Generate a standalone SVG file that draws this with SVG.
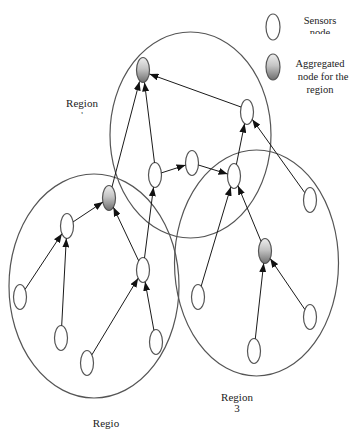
<svg xmlns="http://www.w3.org/2000/svg" width="351" height="430" viewBox="0 0 351 430">
  <style>
    .region { fill: none; stroke: #555; stroke-width: 1.2; }
    .node { fill: #fff; stroke: #555; stroke-width: 1.2; }
    .agg { fill: url(#aggFill); stroke: #555; stroke-width: 1.2; }
    .edge { stroke: #1a1a1a; stroke-width: 1; fill: none; marker-end: url(#arrow); }
    .lbl { font-family: "Liberation Serif", "Times New Roman", serif; fill: #222; text-anchor: middle; }
  </style>
  <defs>
    <linearGradient id="aggFill" x1="0" y1="0" x2="0" y2="1">
      <stop offset="0" stop-color="#eeeeee"/>
      <stop offset="0.45" stop-color="#c4c4c4"/>
      <stop offset="1" stop-color="#6e6e6e"/>
    </linearGradient>
    <marker id="arrow" markerUnits="userSpaceOnUse" markerWidth="9" markerHeight="7" refX="9" refY="3.5" orient="auto">
      <path d="M0,0 L9,3.5 L0,7 z" fill="#111"/>
    </marker>
    <clipPath id="clipNode"><rect x="290" y="0" width="61" height="34"/></clipPath>
    <clipPath id="clipOne"><rect x="70" y="106" width="30" height="8"/></clipPath>
  </defs>

  <!-- region boundaries -->
  <g id="regions">
    <ellipse class="region" cx="190.5" cy="135" rx="80.5" ry="103"/>
    <ellipse class="region" cx="94" cy="286" rx="85" ry="112"/>
    <ellipse class="region" cx="256.5" cy="263" rx="82" ry="113"/>
  </g>

  <!-- legend -->
  <g id="legend">
    <ellipse class="node" cx="273" cy="27" rx="7" ry="13"/>
    <text class="lbl" x="320" y="24" font-size="10.5">Sensors</text>
    <text class="lbl" x="320" y="35.5" font-size="10.5" clip-path="url(#clipNode)">node</text>
    <ellipse class="agg" cx="273" cy="67" rx="7" ry="13"/>
    <text class="lbl" x="320" y="67" font-size="10.5">Aggregated</text>
    <text class="lbl" x="323" y="80" font-size="10.5">node for the</text>
    <text class="lbl" x="320" y="93" font-size="10.5">region</text>
  </g>

  <!-- region labels -->
  <g id="labels">
    <text class="lbl" x="82" y="107" font-size="11">Region</text>
    <text class="lbl" x="82" y="116" font-size="7" clip-path="url(#clipOne)">1</text>
    <text class="lbl" x="237" y="401" font-size="11">Region</text>
    <text class="lbl" x="237" y="412" font-size="11">3</text>
    <text class="lbl" x="106" y="427" font-size="11">Regio</text>
  </g>

  <!-- nodes -->
  <g id="nodeA"><ellipse class="agg" cx="143" cy="70" rx="6.5" ry="12.5"/></g>
  <g id="nodeB"><ellipse class="node" cx="247" cy="112" rx="6.5" ry="12.5"/></g>
  <g id="nodeC"><ellipse class="node" cx="155" cy="175" rx="6.5" ry="12.5"/></g>
  <g id="nodeD"><ellipse class="node" cx="192" cy="163" rx="6.5" ry="12.5"/></g>
  <g id="nodeE"><ellipse class="node" cx="234" cy="176" rx="6.5" ry="12.5"/></g>
  <g id="nodeF"><ellipse class="node" cx="310" cy="200" rx="6.5" ry="12.5"/></g>
  <g id="nodeG"><ellipse class="agg" cx="109" cy="198" rx="6.5" ry="12.5"/></g>
  <g id="nodeH"><ellipse class="node" cx="67" cy="226" rx="6.5" ry="12.5"/></g>
  <g id="nodeI"><ellipse class="node" cx="143" cy="270" rx="6.5" ry="12.5"/></g>
  <g id="nodeJ"><ellipse class="agg" cx="265" cy="251" rx="6.5" ry="12.5"/></g>
  <g id="nodeK"><ellipse class="node" cx="20" cy="297" rx="6.5" ry="12.5"/></g>
  <g id="nodeL"><ellipse class="node" cx="61" cy="338" rx="6.5" ry="12.5"/></g>
  <g id="nodeM"><ellipse class="node" cx="87" cy="363" rx="6.5" ry="12.5"/></g>
  <g id="nodeN"><ellipse class="node" cx="156" cy="342" rx="6.5" ry="12.5"/></g>
  <g id="nodeO"><ellipse class="node" cx="198" cy="297" rx="6.5" ry="12.5"/></g>
  <g id="nodeP"><ellipse class="node" cx="254" cy="351" rx="6.5" ry="12.5"/></g>
  <g id="nodeQ"><ellipse class="node" cx="310" cy="317" rx="6.5" ry="12.5"/></g>

  <!-- connectors -->
  <g id="connectors">
    <line class="edge" x1="241" y1="107" x2="149.5" y2="74"/>
    <line class="edge" x1="154.5" y1="162.8" x2="144.5" y2="82.5"/>
    <line class="edge" x1="112" y1="186.9" x2="139.5" y2="81.5"/>
    <line class="edge" x1="161.4" y1="172.9" x2="185.6" y2="165.1"/>
    <line class="edge" x1="198.4" y1="165" x2="227.6" y2="174"/>
    <line class="edge" x1="236.4" y1="164.4" x2="244.6" y2="123.6"/>
    <line class="edge" x1="304.7" y1="192.6" x2="252.3" y2="119.4"/>
    <line class="edge" x1="73.1" y1="221.9" x2="102.9" y2="202.1"/>
    <line class="edge" x1="138.6" y1="260.7" x2="113.4" y2="207.3"/>
    <line class="edge" x1="144.5" y1="257.9" x2="153.5" y2="187.2"/>
    <line class="edge" x1="25.1" y1="289.3" x2="61.9" y2="233.7"/>
    <line class="edge" x1="61.7" y1="325.6" x2="66.3" y2="238.4"/>
    <line class="edge" x1="91.9" y1="354.8" x2="138.1" y2="278.2"/>
    <line class="edge" x1="153.9" y1="330.2" x2="145.1" y2="281.8"/>
    <line class="edge" x1="201.2" y1="286.1" x2="230.8" y2="186.9"/>
    <line class="edge" x1="261" y1="241.2" x2="238" y2="185.8"/>
    <line class="edge" x1="255.3" y1="338.8" x2="263.7" y2="263.2"/>
    <line class="edge" x1="304.8" y1="309.4" x2="270.2" y2="258.6"/>
  </g>
</svg>
